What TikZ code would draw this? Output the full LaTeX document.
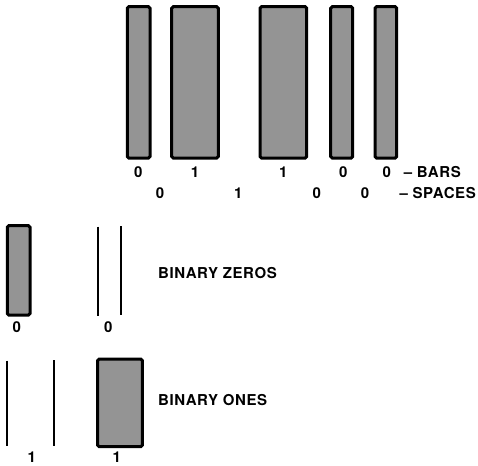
\documentclass[tikz,border=0pt]{standalone}
\usepackage{fontspec}
\setmainfont{TeX Gyre Heros}[LetterSpace=4]
\begin{document}
\begin{tikzpicture}[x=1pt,y=-1pt,
  barbox/.style={draw=black,line width=3pt,fill=black!42,rounded corners=1.5pt},
  spaceline/.style={draw=black,line width=2.3pt},
  lbl/.style={font=\fontsize{15}{17}\selectfont\bfseries,inner sep=0pt},
  txt/.style={lbl,anchor=west}]
\useasboundingbox (0,0) rectangle (478,465);
% top code bars
\draw[barbox] (127.3,6.7) rectangle (150,158);
\draw[barbox] (171.7,6.7) rectangle (218.3,158);
\draw[barbox] (260,6.7) rectangle (306.7,158);
\draw[barbox] (330.7,6.7) rectangle (352.7,158);
\draw[barbox] (375,6.7) rectangle (396.7,158);
% bar labels
\node[lbl] (b1) at (138.3,172) {0};
\node[lbl] (b2) at (195,172) {1};
\node[lbl] (b3) at (283.3,172) {1};
\node[lbl] (b4) at (343.3,172) {0};
\node[lbl] (b5) at (386.7,172) {0};
\node[lbl,anchor=east] (bars) at (461,172) {-- BARS};
% space labels
\node[lbl] (s1) at (160,193) {0};
\node[lbl] (s2) at (238.3,193) {1};
\node[lbl] (s3) at (316.7,193) {0};
\node[lbl] (s4) at (365,193) {0};
\node[lbl,anchor=east] (spaces) at (476,193) {-- SPACES};
% binary zeros
\draw[barbox] (7.3,225.7) rectangle (30,315);
\draw[spaceline] (97.7,226.7) -- (97.7,316);
\draw[spaceline] (120.7,226) -- (120.7,315);
\node[lbl] (z1) at (16.7,327.5) {0};
\node[lbl] (z2) at (108.3,327.5) {0};
\node[txt] (zeros) at (158,273) {BINARY ZEROS};
% binary ones
\draw[spaceline] (7.3,360.7) -- (7.3,446);
\draw[spaceline] (54.3,360) -- (54.3,446);
\draw[barbox] (97.7,359) rectangle (142.3,446.7);
\node[lbl] (o1) at (31.7,457.5) {1};
\node[lbl] (o2) at (116.7,457.5) {1};
\node[txt] (ones) at (158,400) {BINARY ONES};
\end{tikzpicture}
\end{document}
